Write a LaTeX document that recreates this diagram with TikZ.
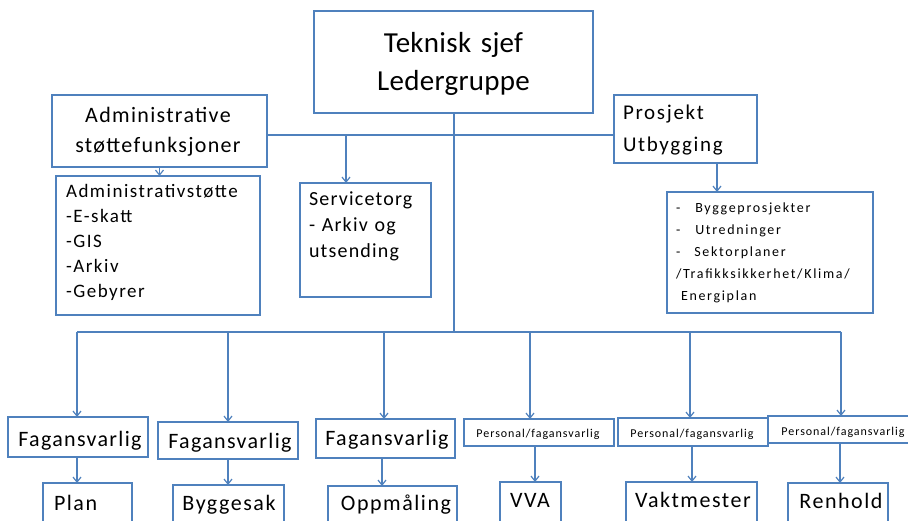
\documentclass[tikz,border=0pt]{standalone}
\usepackage{fontspec}
\setmainfont{Carlito}
\usetikzlibrary{arrows.meta}
\definecolor{bl}{RGB}{79,129,189}
\newcommand\ffs[3]{\fontsize{#1}{#2}\selectfont\addfontfeatures{LetterSpace=#3}}
\begin{document}
\begin{tikzpicture}[x=1pt,y=-1pt,
 box/.style={draw=bl, line width=1.4pt, inner sep=0pt, outer sep=0pt},
 conn/.style={draw=bl, line width=1.5pt},
 arr/.style={conn, -{Straight Barb[length=5pt,width=8pt,line width=1.2pt]}},
 txt/.style={inner sep=0pt, outer sep=0pt, text=black},
]
\useasboundingbox (0,0) rectangle (908,521);
\clip (0,0) rectangle (908,521);
\fill[white] (0,0) rectangle (908,521);

% boxes
\node[box, minimum width=279pt, minimum height=102pt] (top) at (453.5,62) {};
\node[box, minimum width=215pt, minimum height=72pt] (adm) at (159.5,131) {};
\node[box, minimum width=143pt, minimum height=68pt] (pro) at (685.5,129) {};
\node[box, minimum width=204pt, minimum height=139pt] (adm2) at (158,245.5) {};
\node[box, minimum width=131pt, minimum height=114pt] (srv) at (365.5,240) {};
\node[box, minimum width=206pt, minimum height=121pt] (byg) at (770,252.5) {};
\node[box, minimum width=140pt, minimum height=40pt] (f1) at (78,437) {};
\node[box, minimum width=140pt, minimum height=37pt] (f2) at (228,440.5) {};
\node[box, minimum width=139pt, minimum height=39pt] (f3) at (385.5,438.5) {};
\node[box, minimum width=150pt, minimum height=27pt] (f4) at (539,432.5) {};
\node[box, minimum width=150pt, minimum height=28pt] (f5) at (693,432) {};
\node[box, minimum width=147pt, minimum height=27pt] (f6) at (841.5,429.5) {};
\node[box, minimum width=89pt, minimum height=47pt] (b1) at (87.5,506.5) {};
\node[box, minimum width=111pt, minimum height=45pt] (b2) at (228.5,507.5) {};
\node[box, minimum width=129pt, minimum height=44pt] (b3) at (392.5,508) {};
\node[box, minimum width=61pt, minimum height=48pt] (b4) at (530.5,506) {};
\node[box, minimum width=131pt, minimum height=48pt] (b5) at (691.5,506) {};
\node[box, minimum width=100pt, minimum height=47pt] (b6) at (838,506.5) {};

% texts
\node[txt, anchor=base, text width=260pt, align=center, font=\ffs{29}{38}{1}] (ttop) at (453.5,53) {Teknisk sjef\\Ledergruppe};
\node[txt, anchor=base, text width=205pt, align=center, font=\ffs{22}{30}{6}] (tadm) at (158,123) {Administrative\\støttefunksjoner};
\node[txt, anchor=base west, text width=130pt, align=left, font=\ffs{21}{32}{8}] (tpro) at (623,120) {Prosjekt\\Utbygging};
\node[txt, anchor=base west, text width=190pt, align=left, font=\ffs{19}{25}{8}] (tadm2) at (66,198) {Administrativstøtte\\-E-skatt\\-GIS\\-Arkiv\\-Gebyrer};
\node[txt, anchor=base west, text width=120pt, align=left, font=\ffs{20}{26}{6}] (tsrv) at (309,206) {Servicetorg\\- Arkiv og\\utsending};
\node[txt, anchor=base west, text width=200pt, align=left, font=\ffs{14}{22}{12}] (tbyg) at (676,213) {-\hspace{15pt}Byggeprosjekter\\-\hspace{15pt}Utredninger\\-\hspace{14pt}Sektorplaner\\/Trafikksikkerhet/Klima/\\\hspace*{5pt}Energiplan};
\node[txt, anchor=base, font=\ffs{22}{26}{6}] (tf1) at (80,446) {Fagansvarlig};
\node[txt, anchor=base, font=\ffs{22}{26}{6}] (tf2) at (230,448) {Fagansvarlig};
\node[txt, anchor=base, font=\ffs{22}{26}{6}] (tf3) at (387,445) {Fagansvarlig};
\node[txt, anchor=base, font=\ffs{12}{14}{8}] (tf4) at (538,437) {Personal/fagansvarlig};
\node[txt, anchor=base, font=\ffs{12}{14}{8}] (tf5) at (692,437) {Personal/fagansvarlig};
\node[txt, anchor=base, font=\ffs{12}{14}{8}] (tf6) at (843,435) {Personal/fagansvarlig};
\node[txt, anchor=base west, font=\ffs{22}{26}{7}] (tb1) at (54,510) {Plan};
\node[txt, anchor=base, font=\ffs{22}{26}{7}] (tb2) at (229,510) {Byggesak};
\node[txt, anchor=base, font=\ffs{22}{26}{7}] (tb3) at (396,510) {Oppmåling};
\node[txt, anchor=base, font=\ffs{22}{26}{7}] (tb4) at (530,507) {VVA};
\node[txt, anchor=base, font=\ffs{22}{26}{7}] (tb5) at (693,507) {Vaktmester};
\node[txt, anchor=base, font=\ffs{22}{26}{7}] (tb6) at (841,508) {Renhold};

% connectors
\coordinate (h) at (0,135);
\coordinate (tv) at (454,113);
\coordinate (sv) at (346,135);
\coordinate (pv) at (717,163);
\coordinate (c1) at (77,332);
\coordinate (c2) at (228,332);
\coordinate (c3) at (384,332);
\coordinate (c4) at (530,332);
\coordinate (c5) at (690,332);
\coordinate (c6) at (841,332);
\coordinate (d1) at (77,0);
\coordinate (d2) at (228,0);
\coordinate (d3) at (382,0);
\coordinate (d4) at (535,0);
\coordinate (d5) at (692,0);
\coordinate (d6) at (840,0);

\draw[conn] (adm.east |- h) -- (pro.west |- h);
\draw[conn] (tv) -- (tv |- c1);
\draw[arr] (sv) -- (sv |- srv.north);
\draw[arr] (adm.south) -- (adm.south |- adm2.north);
\draw[arr] (pv) -- (pv |- byg.north);
\draw[conn] (c1) -- (c6);
\draw[arr] (c1) -- (c1 |- f1.north);
\draw[arr] (c2) -- (c2 |- f2.north);
\draw[arr] (c3) -- (c3 |- f3.north);
\draw[arr] (c4) -- (c4 |- f4.north);
\draw[arr] (c5) -- (c5 |- f5.north);
\draw[arr] (c6) -- (c6 |- f6.north);
\draw[arr] (d1 |- f1.south) -- (d1 |- b1.north);
\draw[arr] (d2 |- f2.south) -- (d2 |- b2.north);
\draw[arr] (d3 |- f3.south) -- (d3 |- b3.north);
\draw[arr] (d4 |- f4.south) -- (d4 |- b4.north);
\draw[arr] (d5 |- f5.south) -- (d5 |- b5.north);
\draw[arr] (d6 |- f6.south) -- (d6 |- b6.north);
\end{tikzpicture}
\end{document}
